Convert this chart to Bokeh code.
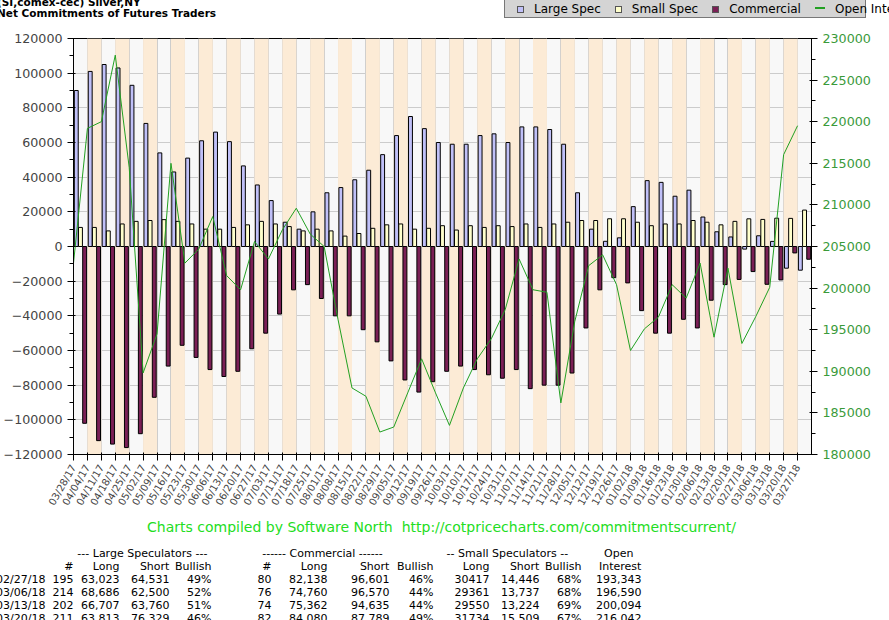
import numpy as np
from bokeh.plotting import figure
from bokeh.models import (Range1d, LinearAxis, FixedTicker, Div, BasicTickFormatter)
from bokeh.layouts import column
from bokeh.embed import file_html
from bokeh.resources import INLINE

dates = ["03/28/17","04/04/17","04/11/17","04/18/17","04/25/17","05/02/17","05/09/17","05/16/17","05/23/17","05/30/17",
"06/06/17","06/13/17","06/20/17","06/27/17","07/03/17","07/11/17","07/18/17","07/25/17","08/01/17","08/08/17",
"08/15/17","08/22/17","08/29/17","09/05/17","09/12/17","09/19/17","09/26/17","10/03/17","10/10/17","10/17/17",
"10/24/17","10/31/17","11/07/17","11/14/17","11/21/17","11/28/17","12/05/17","12/12/17","12/19/17","12/26/17",
"01/02/18","01/09/18","01/16/18","01/23/18","01/30/18","02/06/18","02/13/18","02/20/18","02/27/18","03/06/18",
"03/13/18","03/20/18","03/27/18"]
large_spec = [90000,101000,105000,103000,93000,71000,54000,43000,51000,61000,66000,60500,46500,35500,26500,14000,10000,20000,31000,34000,
38500,44000,53000,64000,75000,68000,60000,59000,59000,64000,65000,60000,69000,69000,67500,59000,31000,10000,3000,5000,
23000,38000,37000,29000,32500,17000,8500,5500,-1508,6188,2943,-12516,-13657]
small_spec = [11000,11000,9000,13000,14500,15000,15500,14500,13000,10000,10000,11000,12500,14500,13000,11500,9000,10000,9000,6000,
7500,10500,12500,13000,10000,10500,12000,9500,12000,11000,12000,11500,13000,11000,13000,14000,15000,15000,16000,16000,
14000,12000,13000,13000,15000,14000,12500,14500,15971,15624,16326,16225,21009]
commercial = [-102000,-112000,-114000,-116000,-108000,-87000,-69000,-57000,-64000,-71000,-75000,-72000,-59000,-50000,-39000,-25000,-22000,-30000,-40000,-40000,
-48000,-55000,-66000,-77000,-84000,-78000,-72000,-69000,-71000,-74000,-76000,-71000,-82000,-80000,-80000,-73000,-47000,-25000,-18000,-21000,
-37000,-50000,-50000,-42000,-47000,-31000,-22000,-19000,-14463,-21810,-19273,-3709,-7352]
open_interest = [203000,219200,220000,228000,214500,189800,194500,215000,203000,204700,208600,201500,199800,205600,203500,207000,209600,206500,205000,196200,
188000,187000,182700,183300,187400,191500,187400,183500,188000,191500,193900,197400,203500,199800,199500,186200,196000,202700,204000,200400,
192500,195100,196500,200400,198800,203000,194100,202400,193343,196590,200094,216042,219518]

n = len(dates)
idx = np.arange(n)

legend_items = [("Large Spec", "#C0C0F8", "sq"), ("Small Spec", "#FFFFCC", "sq"),
                ("Commercial", "#7A1F55", "sq"), ("Open Interest", "#22A022", "line")]
leg = ""
for name, col, kind in legend_items:
    if kind == "sq":
        mk = f'<span style="display:inline-block;width:7px;height:7px;background:{col};border:1px solid #555;margin-right:10px"></span>'
    else:
        mk = f'<span style="display:inline-block;width:10px;height:2px;background:{col};margin:0 10px 3px 0;vertical-align:middle"></span>'
    leg += f'<span style="margin-right:14px">{mk}{name}</span>'
header = Div(text=(
    '<div style="position:relative;width:873px;height:24px;font-family:DejaVu Sans;">'
    '<div style="position:absolute;left:-8px;top:-8px;font-size:10.5px;font-weight:bold;line-height:11px">'
    '(SI,comex-cec) Silver,NY<br>Net Commitments of Futures Traders</div>'
    '<div style="position:absolute;left:499px;top:-6px;width:362px;height:19px;background:#D4D4D4;border:1px solid #777;'
    'font-size:12px;line-height:19px;padding-left:12px;white-space:nowrap">' + leg + '</div></div>'),
    width=873, height=22)

p = figure(width=873, height=480, output_backend="svg", toolbar_location=None,
           x_range=Range1d(0, n), y_range=Range1d(-120000, 120000),
           min_border_left=43, min_border_right=43, min_border_top=6, min_border_bottom=50)
p.extra_y_ranges = {"oi": Range1d(180000, 230000)}
p.background_fill_color = "#F8F8F8"
p.outline_line_color = "black"

band_x = [i + 0.5 for i in idx if i % 2 == 1]
p.vbar(x=band_x, width=1, top=120000, bottom=-120000, fill_color="#FCEBD6", line_color=None)

p.xgrid.ticker = FixedTicker(ticks=list(range(n + 1)))
p.xgrid.grid_line_color = "#CCCCCC"
p.ygrid.grid_line_color = "#CCCCCC"

p.vbar(x=idx + 0.2, width=0.28, top=large_spec, bottom=0, fill_color="#C0C0F8", line_color="black", line_width=1)
p.vbar(x=idx + 0.5, width=0.28, top=small_spec, bottom=0, fill_color="#FFFFCC", line_color="black", line_width=1)
p.vbar(x=idx + 0.8, width=0.28, top=commercial, bottom=0, fill_color="#7A1F55", line_color="black", line_width=1)
p.line(x=idx, y=open_interest, y_range_name="oi", line_color="#22A022", line_width=1)

p.xaxis.ticker = FixedTicker(ticks=list(range(n)))
p.xaxis.major_label_overrides = {i: d for i, d in enumerate(dates)}
p.xaxis.major_label_orientation = 1.05
p.xaxis.major_label_text_font_size = "7.5pt"
p.xaxis.major_label_text_font = "DejaVu Sans"
p.xaxis.minor_tick_line_color = None

fmt = BasicTickFormatter(use_scientific=False)
p.yaxis.ticker = FixedTicker(ticks=list(range(-120000, 120001, 20000)),
                             minor_ticks=list(range(-120000, 120001, 10000)))
p.yaxis.formatter = fmt
p.yaxis.major_label_text_font = "DejaVu Sans"
p.yaxis.major_label_text_font_size = "9.5pt"

ax2 = LinearAxis(y_range_name="oi", formatter=BasicTickFormatter(use_scientific=False),
                 ticker=FixedTicker(ticks=list(range(180000, 230001, 5000)),
                                    minor_ticks=list(range(180000, 230001, 2500))))
ax2.major_label_text_color = "#3A9A3A"
ax2.major_label_text_font = "DejaVu Sans"
ax2.major_label_text_font_size = "9.5pt"
p.add_layout(ax2, "right")

credit = Div(text='<div style="width:873px;text-align:center;color:#22DD22;font-family:DejaVu Sans;font-size:14px;">'
             'Charts compiled by Software North&nbsp;&nbsp;http://cotpricecharts.com/commitmentscurrent/</div>',
             width=873, height=20)

rows = [
 ["","#","Long","Short","Bullish","#","Long","Short","Bullish","Long","Short","Bullish","Interest"],
 ["02/27/18","195","63,023","64,531","49%","80","82,138","96,601","46%","30417","14,446","68%","193,343"],
 ["03/06/18","214","68,686","62,500","52%","76","74,760","96,570","44%","29361","13,737","68%","196,590"],
 ["03/13/18","202","66,707","63,760","51%","74","75,362","94,635","44%","29550","13,224","69%","200,094"],
 ["03/20/18","211","63,813","76,329","46%","82","84,080","87,789","49%","31734","15,509","67%","216,042"],
 ["03/27/18","210","60,786","74,443","45%","81","82,087","89,439","48%","34190","13,181","72%","219,518"],
]
widths = [48, 28, 46, 50, 42, 60, 56, 62, 44, 56, 50, 42, 60]
st = "font-family:DejaVu Sans;font-size:11px;line-height:13px;"
html = '<table style="border-collapse:collapse;table-layout:fixed;' + st + '">'
html += '<tr><td colspan="2"></td><td colspan="3" style="text-align:center;padding:0">--- Large Speculators ---</td>' \
        '<td colspan="4" style="text-align:center;padding:0">------ Commercial ------</td>' \
        '<td colspan="3" style="text-align:center;padding:0">-- Small Speculators --</td>' \
        '<td style="text-align:right;padding:0 8px 0 0">Open</td></tr>'
for r in rows:
    html += "<tr>"
    for j, c in enumerate(r):
        al = "left" if j == 0 else "right"
        html += f'<td style="width:{widths[j]}px;text-align:{al};padding:0;white-space:nowrap">{c}</td>'
    html += "</tr>"
html += "</table>"
table = Div(text=html, width=873, height=92, styles={"margin-left": "-4px"})

layout = column(header, p, credit, table, spacing=0)
open("out.html", "w").write(file_html(layout, INLINE))
